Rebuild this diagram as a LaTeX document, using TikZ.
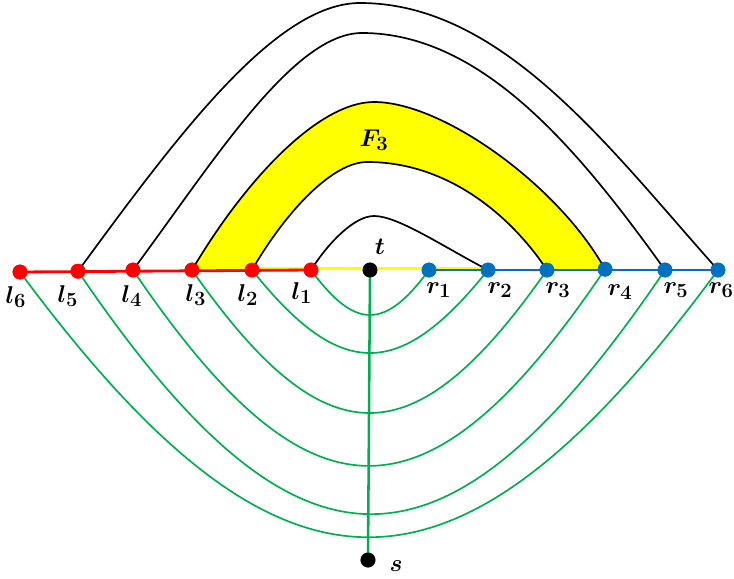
\documentclass[tikz,border=0pt]{standalone}
\usepackage{tikz}
\usetikzlibrary{positioning}
\usepackage{amsmath}
\definecolor{lside}{HTML}{FF0000}
\definecolor{rside}{HTML}{0070C0}
\definecolor{tree}{HTML}{00B050}
\definecolor{face}{HTML}{FFFF00}

\begin{document}
\begin{tikzpicture}[
  dot/.style={circle,fill,inner sep=0pt,minimum size=0.37cm},
  lab/.style={font=\fontsize{19}{22}\selectfont\boldmath,inner sep=0pt},
  bound/.style={black,line width=1.2pt},
  cut/.style={tree,line width=1.2pt},
]
  \useasboundingbox (-9.25,-7.7) rectangle (9.1,6.75);

  % vertices on the line
  \node[dot,lside] (l6) at (-8.75,-0.05) {};
  \node[dot,lside] (l5) at (-7.3,-0.03) {};
  \node[dot,lside] (l4) at (-5.925,0) {};
  \node[dot,lside] (l3) at (-4.45,0) {};
  \node[dot,lside] (l2) at (-2.95,0) {};
  \node[dot,lside] (l1) at (-1.475,0) {};
  \node[dot] (t) at (0,0) {};
  \node[dot,rside] (r1) at (1.475,0) {};
  \node[dot,rside] (r2) at (2.95,0) {};
  \node[dot,rside] (r3) at (4.425,0) {};
  \node[dot,rside] (r4) at (5.875,0.02) {};
  \node[dot,rside] (r5) at (7.375,0) {};
  \node[dot,rside] (r6) at (8.7,0) {};
  \node[dot] (s) at (-0.05,-7.25) {};

  % tops of the arcs
  \coordinate (top1) at (0.1,1.35);
  \coordinate (top2) at (-0.07,2.7);
  \coordinate (top3) at (0.1,4.2);
  \coordinate (top4) at (-0.2,5.925);
  \coordinate (top5) at (-0.25,6.675);

  % the face F3
  \fill[face] (l3.center) .. controls (-3.085,2.31) and (-1.265,4.2) .. (top3)
    .. controls (1.83,4.2) and (4.72,2.1) .. (r4.center) -- (r3.center)
    .. controls (3.53,1.35) and (1.95,2.7) .. (top2)
    .. controls (-0.93,2.7) and (-2.09,1.485) .. (l2.center) -- cycle;

  \draw[bound] (l1.center) .. controls (-1.0,0.74) and (-0.37,1.35) .. (top1)
    .. controls (0.7,1.35) and (1.8,0.6) .. (r2.center);
  \draw[bound] (l2.center) .. controls (-2.09,1.485) and (-0.93,2.7) .. (top2)
    .. controls (1.95,2.7) and (3.53,1.35) .. (r3.center);
  \draw[bound] (l3.center) .. controls (-3.085,2.31) and (-1.265,4.2) .. (top3)
    .. controls (1.83,4.2) and (4.72,2.1) .. (r4.center);
  \draw[bound] (l4.center) .. controls (-3.92,2.7) and (-1.92,5.925) .. (top4)
    .. controls (2.83,5.925) and (5.25,2.96) .. (r5.center);
  \draw[bound] (l5.center) .. controls (-4.83,3.34) and (-2.365,6.675) .. (top5)
    .. controls (3.33,6.675) and (6.015,3.0) .. (r6.center);

  % cuts below the line
  \draw[cut] (l1.center) .. controls (-0.37,-1.5) and (0.37,-1.5) .. (r1.center);
  \draw[cut] (l2.center) .. controls (-0.74,-2.767) and (0.74,-2.767) .. (r2.center);
  \draw[cut] (l3.center) .. controls (-1.12,-4.767) and (1.1,-4.767) .. (r3.center);
  \draw[cut] (l4.center) .. controls (-1.5,-6.533) and (1.45,-6.533) .. (r4.center);
  \draw[cut] (l5.center) .. controls (-1.8,-8.133) and (1.87,-8.133) .. (r5.center);
  \draw[cut] (l6.center) .. controls (-2.2,-8.9) and (2.15,-8.9) .. (r6.center);
  \draw[tree,line width=1.8pt] (t.center) -- (s.center);

  % the line itself
  \draw[face,line width=2.2pt] ([yshift=1.2pt]l2.center) -- ([yshift=1.2pt]r2.center);
  \draw[lside,line width=2pt] (l6.center) -- (l1.center);
  \draw[rside,line width=2pt] (r1.center) -- (r6.center);

  \foreach \v/\c in {l6/lside,l5/lside,l4/lside,l3/lside,l2/lside,l1/lside,r1/rside,r2/rside,r3/rside,r4/rside,r5/rside,r6/rside,t/black,s/black}
    \node[dot,\c] at (\v) {};

  % labels
  \node[lab] (l6lab) at (-8.85,-0.68) {$l_6$};
  \node[lab] (l5lab) at (-7.55,-0.65) {$l_5$};
  \node[lab] (l4lab) at (-5.95,-0.65) {$l_4$};
  \node[lab] (l3lab) at (-4.35,-0.62) {$l_3$};
  \node[lab] (l2lab) at (-3.05,-0.62) {$l_2$};
  \node[lab] (l1lab) at (-1.7,-0.58) {$l_1$};
  \node[lab] (r1lab) at (1.72,-0.5) {$r_1$};
  \node[lab] (r2lab) at (3.25,-0.5) {$r_2$};
  \node[lab] (r3lab) at (4.7,-0.5) {$r_3$};
  \node[lab] (r4lab) at (6.25,-0.55) {$r_4$};
  \node[lab] (r5lab) at (7.65,-0.5) {$r_5$};
  \node[lab] (r6lab) at (8.78,-0.5) {$r_6$};
  \node[lab] (tlab) at (0.25,0.58) {$t$};
  \node[lab] (slab) at (0.65,-7.4) {$s$};
  \node[lab] (flab) at (0.1,3.25) {$F_3$};
\end{tikzpicture}
\end{document}
